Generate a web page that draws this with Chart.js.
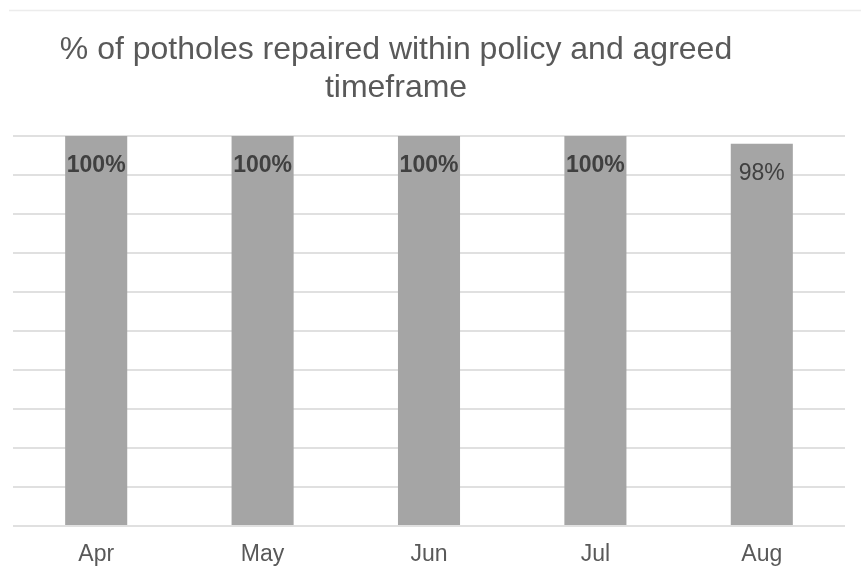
<!DOCTYPE html>
<html>
<head>
<meta charset="utf-8">
<script src="https://cdn.jsdelivr.net/npm/chart.js@4/dist/chart.umd.min.js"></script>
<style>
  html, body { margin:0; padding:0; background:#fff; }
  canvas { display:block; }
</style>
</head>
<body>
<canvas id="chart" width="861" height="576"></canvas>
<script>
// ─── Data ───────────────────────────────────────────────────────────
const months   = ['Apr', 'May', 'Jun', 'Jul', 'Aug'];
const repaired = [100, 100, 100, 100, 98];
const pctLabels = ['100%', '100%', '100%', '100%', '98%'];
const titleLines = ['% of potholes repaired within policy and agreed', 'timeframe'];

const FONT_FAMILY = '"Liberation Sans", Arial, sans-serif';

// ─── Title + top border (title sits left of centre, like the original) ──────
const titlePlugin = {
  id: 'sheetTitle',
  afterDraw(chart) {
    const ctx = chart.ctx;
    ctx.save();
    ctx.strokeStyle = '#ececec';
    ctx.lineWidth = 1.5;
    ctx.beginPath();
    ctx.moveTo(9, 10.5);
    ctx.lineTo(chart.width, 10.5);
    ctx.stroke();

    ctx.fillStyle = '#595959';
    ctx.font = '32px ' + FONT_FAMILY;
    ctx.textAlign = 'center';
    ctx.textBaseline = 'alphabetic';
    titleLines.forEach((t, i) => ctx.fillText(t, 396, 59 + i * 38));
    ctx.restore();
  }
};

// ─── Value labels inside the top of each bar ────────────────────────────────
const barLabels = {
  id: 'barLabels',
  afterDatasetsDraw(chart) {
    const ctx  = chart.ctx;
    const meta = chart.getDatasetMeta(0);
    ctx.save();
    ctx.fillStyle = '#404040';
    ctx.textAlign = 'center';
    ctx.textBaseline = 'middle';
    meta.data.forEach((bar, i) => {
      const bold = repaired[i] >= 100;
      ctx.font = (bold ? 'bold ' : '') + '23px ' + FONT_FAMILY;
      ctx.fillText(pctLabels[i], bar.x, bar.y + 29.5);
    });
    ctx.restore();
  }
};

new Chart(document.getElementById('chart').getContext('2d'), {
  type: 'bar',
  data: {
    labels: months,
    datasets: [{
      data: repaired,
      backgroundColor: '#a5a5a5',
      borderWidth: 0,
      barPercentage: 0.373,
      categoryPercentage: 1.0
    }]
  },
  options: {
    responsive: false,
    animation: false,
    layout: { padding: { left: 13, right: 16, top: 136, bottom: 10 } },
    plugins: {
      legend: { display: false },
      title:  { display: false },
      tooltip:{ enabled: false }
    },
    scales: {
      x: {
        grid:   { display: false, drawTicks: false },
        border: { display: false },
        ticks:  { color: '#595959', font: { family: FONT_FAMILY, size: 23, lineHeight: 1.1 }, padding: 16 },
        afterFit(scale) { scale.height = 40; }
      },
      y: {
        min: 0, max: 100,
        ticks:  { display: false, stepSize: 10 },
        grid:   { color: '#e0e0e0', lineWidth: 2, drawTicks: false },
        border: { display: false }
      }
    }
  },
  plugins: [titlePlugin, barLabels]
});
</script>
</body>
</html>
